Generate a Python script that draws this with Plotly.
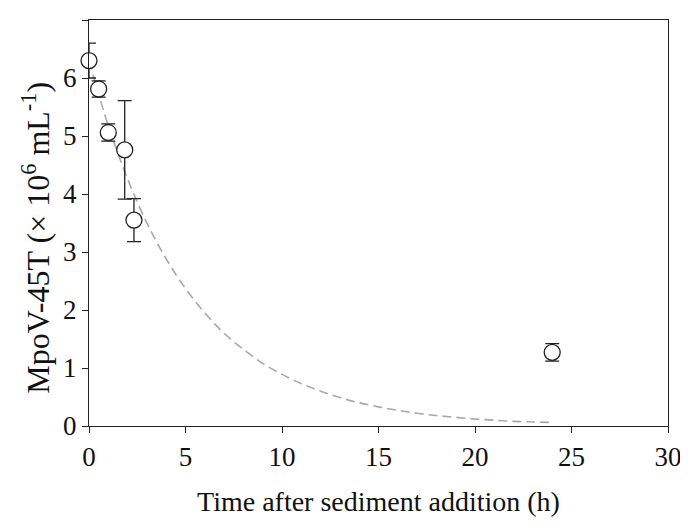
import plotly.graph_objects as go

# Observed data
time_h = [0, 0.5, 1, 1.85, 2.33, 24]
conc = [6.30, 5.81, 5.06, 4.76, 3.55, 1.27]
err = [0.30, 0.14, 0.15, 0.85, 0.37, 0.15]

# Fitted curve
curve_t = [0, 1, 2, 3, 4, 5, 6, 7, 8, 9, 10, 11, 12, 13, 14, 15, 16, 17, 18, 19, 20, 21, 22, 23, 24]
curve_y = [6.30, 5.18, 4.26, 3.50, 2.88, 2.37, 1.95, 1.60, 1.32, 1.08, 0.89, 0.73, 0.60, 0.49,
           0.40, 0.33, 0.27, 0.22, 0.18, 0.15, 0.12, 0.10, 0.08, 0.07, 0.06]

x_ticks = [0, 5, 10, 15, 20, 25, 30]
y_ticks = [0, 1, 2, 3, 4, 5, 6, 7]

x_title = "Time after sediment addition (h)"
y_title = "MpoV-45T (× 10<sup>6</sup> mL<sup>-1</sup>)"

font_family = "'Liberation Serif', 'Times New Roman', serif"

fig = go.Figure()
fig.add_trace(go.Scatter(
    x=curve_t, y=curve_y, mode="lines",
    line=dict(color="#a8a8a8", width=1.6, dash="9px,5px", shape="spline"),
    hoverinfo="skip", showlegend=False))
fig.add_trace(go.Scatter(
    x=time_h, y=conc, mode="markers",
    marker=dict(symbol="circle", size=16, color="white", line=dict(color="#222222", width=1.3)),
    error_y=dict(type="data", array=err, visible=True, color="#222222", thickness=1.3, width=7),
    cliponaxis=False, showlegend=False))

axis_common = dict(
    showline=True, linecolor="#222222", linewidth=1.4, mirror=True,
    ticks="outside", ticklen=6, tickwidth=1.3, tickcolor="#222222",
    showgrid=False, zeroline=False, automargin=False,
    tickfont=dict(family=font_family, size=27, color="#111111"),
)

fig.update_xaxes(range=[0, 30], tickvals=x_ticks,
                 title=dict(text=x_title,
                            font=dict(family=font_family, size=28, color="#111111"), standoff=20),
                 **axis_common)
fig.update_yaxes(range=[0, 7], tickvals=y_ticks, **axis_common)

fig.add_annotation(
    text=y_title, textangle=-90, showarrow=False,
    xref="paper", yref="paper", x=-0.092, y=0.463,
    xanchor="center", yanchor="middle",
    font=dict(family=font_family, size=32, color="#111111"))

# the page adds an 8px body margin, so the figure is sized/offset to compensate
fig.update_layout(
    width=680, height=509,
    margin=dict(l=81, r=20, t=12, b=91),
    plot_bgcolor="white", paper_bgcolor="white",
)

fig.write_html("out.html")
